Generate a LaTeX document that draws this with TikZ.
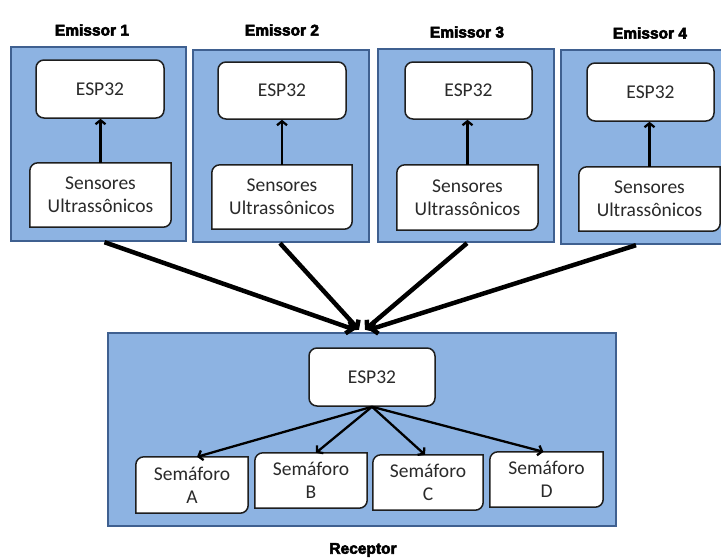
\documentclass[tikz,border=0pt]{standalone}
\usepackage{fontspec}
\setmainfont{Carlito}
\newfontfamily\titlefont{Liberation Sans}[BoldFeatures={FakeBold=3.5}]
\usetikzlibrary{arrows.meta}
\definecolor{panelfill}{HTML}{8DB3E2}
\definecolor{paneldraw}{HTML}{3F6090}
\definecolor{boxline}{HTML}{1E1E1E}
\definecolor{txt}{HTML}{2A2A2A}
\pgfdeclarelayer{back}
\pgfdeclarelayer{mid}
\pgfsetlayers{back,mid,main}
\newcommand\diagoutline[1]{%
  \draw[line width=1.5pt, draw=boxline, fill=white]
    ([yshift=-8pt]#1.north west) arc[start angle=180,end angle=90,radius=8pt]
    -- (#1.north east) -- ([yshift=8pt]#1.south east)
    arc[start angle=0,end angle=-90,radius=8pt]
    -- (#1.south west) -- cycle;}
\begin{document}
\begin{tikzpicture}[x=1pt,y=1pt,
  panel/.style={rectangle, draw=paneldraw, fill=panelfill, line width=2.4pt, inner sep=0pt},
  espbox/.style={rectangle, rounded corners=8pt, draw=boxline, fill=white, line width=1.5pt,
    inner sep=0pt, text=txt, font=\fontsize{19.5}{23}\selectfont, align=center},
  diagbox/.style={rectangle, inner sep=0pt, align=center, text=txt, font=\fontsize{19.5}{23}\selectfont},
  ttl/.style={font=\titlefont\bfseries\fontsize{15.5}{18}\selectfont},
  link/.style={line width=4.5pt, draw=black, -{Straight Barb[length=5pt,width=13pt]}},
  inarrow/.style={line width=2.3pt, draw=black, -{Straight Barb[length=4pt,width=10pt]}}]
\useasboundingbox (0,0) rectangle (721,-558);

% panels
\begin{pgfonlayer}{back}
\node[panel, minimum width=175pt, minimum height=194pt] (P1) at (98.5,-144) {};
\node[panel, minimum width=176pt, minimum height=192pt] (P2) at (281,-146) {};
\node[panel, minimum width=176pt, minimum height=193pt] (P3) at (466,-145.5) {};
\node[panel, minimum width=162pt, minimum height=194pt] (P4) at (642,-147) {};
\node[panel, minimum width=508pt, minimum height=193pt] (R) at (362,-429.5) {};
\end{pgfonlayer}

% titles
\node[ttl] (T1) at (92,-30) {Emissor 1};
\node[ttl] (T2) at (282,-30) {Emissor 2};
\node[ttl] (T3) at (467,-32) {Emissor 3};
\node[ttl] (T4) at (650,-33) {Emissor 4};
\node[ttl] (TR) at (363,-550) {Receptor};

% emitter ESP32
\node[espbox, minimum width=128pt, minimum height=58pt] (E1) at (100,-89) {ESP32};
\node[espbox, minimum width=128pt, minimum height=57pt] (E2) at (282,-90.5) {ESP32};
\node[espbox, minimum width=127pt, minimum height=57pt] (E3) at (468.5,-90.5) {ESP32};
\node[espbox, minimum width=127pt, minimum height=58pt] (E4) at (650.5,-92) {ESP32};

% sensors
\node[diagbox, minimum width=141pt, minimum height=64pt] (S1) at (100.5,-195) {Sensores\\Ultrassônicos};
\node[diagbox, minimum width=140pt, minimum height=64pt] (S2) at (282,-197) {Sensores\\Ultrassônicos};
\node[diagbox, minimum width=141pt, minimum height=65pt] (S3) at (467.5,-197.5) {Sensores\\Ultrassônicos};
\node[diagbox, minimum width=141pt, minimum height=64pt] (S4) at (649.5,-199) {Sensores\\Ultrassônicos};

% receptor
\node[espbox, minimum width=126pt, minimum height=58pt] (RE) at (372,-377) {ESP32};
\node[diagbox, minimum width=112pt, minimum height=56pt] (SA) at (192,-485) {Semáforo\\A};
\node[diagbox, minimum width=112pt, minimum height=55pt] (SB) at (311,-480.5) {Semáforo\\B};
\node[diagbox, minimum width=110pt, minimum height=55pt] (SC) at (428,-482.5) {Semáforo\\C};
\node[diagbox, minimum width=113pt, minimum height=55pt] (SD) at (546.5,-479.5) {Semáforo\\D};

\begin{pgfonlayer}{mid}
\foreach \n in {S1,S2,S3,S4,SA,SB,SC,SD}{\diagoutline{\n}}
\end{pgfonlayer}

% inner arrows
\foreach \s/\e in {S1/E1,S2/E2,S3/E3,S4/E4}{
  \draw[inarrow] (\s.north) -- (\s.north |- \e.south);
}

% links to receptor
\draw[link] ([xshift=6pt]P1.south) -- ([xshift=-7pt,yshift=2pt]R.north);
\draw[link] ([xshift=-1pt]P2.south) -- ([xshift=-3pt,yshift=2pt]R.north);
\draw[link] ([xshift=1pt]P3.south) -- ([xshift=3pt,yshift=2pt]R.north);
\draw[link] ([xshift=-6pt]P4.south) -- ([xshift=7pt,yshift=2pt]R.north);

% receptor arrows
\draw[inarrow] (RE.south) -- ([xshift=5pt]SA.north);
\draw[inarrow] (RE.south) -- ([xshift=5pt]SB.north);
\draw[inarrow] (RE.south) -- ([xshift=-3pt]SC.north);
\draw[inarrow] (RE.south) -- ([xshift=-3pt]SD.north);
\end{tikzpicture}
\end{document}
